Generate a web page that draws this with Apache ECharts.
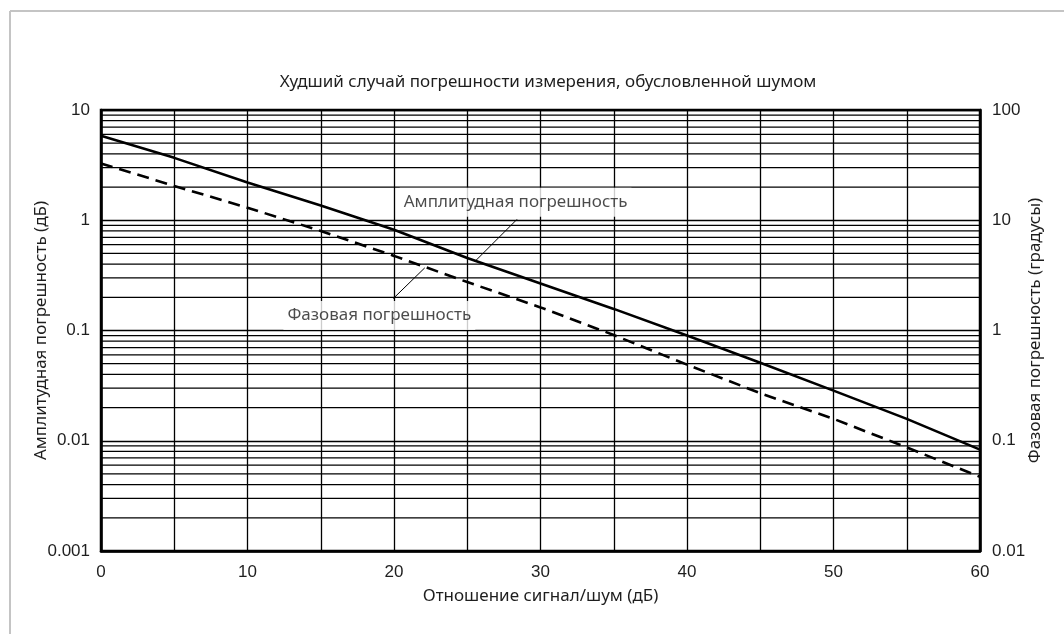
<!DOCTYPE html>
<html>
<head>
<meta charset="utf-8">
<script src="https://cdn.jsdelivr.net/npm/echarts@6/dist/echarts.min.js"></script>
<style>
html,body{margin:0;padding:0;background:#fff;}
#chart{width:1064px;height:634px;}
</style>
</head>
<body>
<div id="chart"></div>
<script>
// ---- data ----
const snrDb = [0, 5, 10, 15, 20, 25, 30, 35, 40, 45, 50, 55, 60];
const amplitudeErrDb = [5.84, 3.68, 2.2, 1.36, 0.82, 0.455, 0.267, 0.157, 0.09, 0.051, 0.0285, 0.0158, 0.0083];
const phaseErrDeg = [32.7, 20.5, 13, 8, 4.75, 2.75, 1.62, 0.91, 0.49, 0.27, 0.158, 0.087, 0.047];
const minorGridLeft = [0.002,0.003,0.004,0.005,0.006,0.007,0.008,0.009,
                       0.02,0.03,0.04,0.05,0.06,0.07,0.08,0.09,
                       0.2,0.3,0.4,0.5,0.6,0.7,0.8,0.9,
                       2,3,4,5,6,7,8,9];
const xRange = [0, 60];
const titleText = 'Худший случай погрешности измерения, обусловленной шумом';
const xName = 'Отношение сигнал/шум (дБ)';
const yLeftName = 'Амплитудная погрешность (дБ)';
const yRightName = 'Фазовая погрешность (градусы)';
const ampLabel = 'Амплитудная погрешность';
const phaseLabel = 'Фазовая погрешность';
// annotation anchor points (data units): [snr, value]
const ampLabelPos = [28.3, 1.46];
const phaseLabelPos = [19.0, 0.137];
const ampLeader = [[28.4, 1.02], [25.5, 0.42]];
const phaseLeader = [[19.95, 0.195], [22.1, 0.37]];

const chart = echarts.init(document.getElementById('chart'), null, {renderer:'canvas'});
const txt = '#1e1e1e';
const font = 'Noto Sans';
const tickFont = 'Liberation Sans';

const option = {
  backgroundColor:'#fff',
  animation:false,
  title:{
    text:titleText, left:543, top:69, textAlign:'center',
    textStyle:{fontFamily:font, fontSize:17, fontWeight:'normal', color:txt}
  },
  graphic:[
    {type:'line', shape:{x1:10,y1:11,x2:1064,y2:11}, style:{stroke:'#c4c4c4', lineWidth:2}},
    {type:'line', shape:{x1:10,y1:11,x2:10,y2:634}, style:{stroke:'#c4c4c4', lineWidth:2}}
  ],
  grid:{left:101, right:84, top:110, bottom:83, show:true, borderColor:'#000', borderWidth:2.5, backgroundColor:'transparent'},
  xAxis:{
    type:'value', min:xRange[0], max:xRange[1], interval:5,
    name:xName, nameLocation:'middle', nameGap:37, nameMoveOverlap:false,
    nameTextStyle:{fontFamily:font, fontSize:17, color:txt},
    axisLine:{show:true, lineStyle:{color:'#000', width:2.5}},
    axisTick:{show:false},
    axisLabel:{fontFamily:tickFont, fontSize:17, color:txt, margin:13,
      formatter:v => (v % 10 === 0 ? String(v) : '')},
    splitLine:{show:true, lineStyle:{color:'#000', width:1.3}}
  },
  yAxis:[
    {
      type:'log', logBase:10, min:0.001, max:10,
      name:yLeftName, nameLocation:'middle', nameGap:51, nameMoveOverlap:false,
      nameTextStyle:{fontFamily:font, fontSize:17, color:txt},
      axisLine:{show:true, lineStyle:{color:'#000', width:2.5}},
      axisTick:{show:false},
      axisLabel:{fontFamily:tickFont, fontSize:17, color:txt, margin:11,
        formatter:v => String(+v.toPrecision(1))},
      splitLine:{show:true, lineStyle:{color:'#000', width:1.3}}
    },
    {
      type:'log', logBase:10, min:0.01, max:100, position:'right',
      name:yRightName, nameLocation:'middle', nameGap:47, nameMoveOverlap:false,
      nameTextStyle:{fontFamily:font, fontSize:17, color:txt},
      axisLine:{show:true, lineStyle:{color:'#000', width:2.5}},
      axisTick:{show:false},
      axisLabel:{fontFamily:tickFont, fontSize:17, color:txt, margin:12,
        formatter:v => String(+v.toPrecision(1))},
      splitLine:{show:false}
    }
  ],
  series:[
    {
      name:'minorGrid', type:'custom', yAxisIndex:0, silent:true, z:1,
      data:minorGridLeft.map(v => [v]),
      encode:{y:0},
      renderItem:function(params, api){
        const v = api.value(0);
        const p1 = api.coord([xRange[0], v]);
        const p2 = api.coord([xRange[1], v]);
        return {type:'line', shape:{x1:p1[0], y1:p1[1], x2:p2[0], y2:p2[1]},
          style:{stroke:'#000', lineWidth:1.3}};
      }
    },
    {
      name:'amp', type:'line', yAxisIndex:0, z:5,
      data:snrDb.map((x,i)=>[x, amplitudeErrDb[i]]),
      showSymbol:false, lineStyle:{color:'#000', width:2.6}
    },
    {
      name:'phase', type:'line', yAxisIndex:1, z:5,
      data:snrDb.map((x,i)=>[x, phaseErrDeg[i]]),
      showSymbol:false, lineStyle:{color:'#000', width:2.6, type:[12,7]}
    },
    {
      name:'leaders', type:'line', yAxisIndex:0, z:6, silent:true, data:[],
      markLine:{silent:true, symbol:['none','none'], label:{show:false},
        lineStyle:{color:'#000', width:1, type:'solid'},
        data:[
          [{coord:ampLeader[0]},{coord:ampLeader[1]}],
          [{coord:phaseLeader[0]},{coord:phaseLeader[1]}]
        ]}
    },
    {
      name:'labels', type:'scatter', yAxisIndex:0, z:10, silent:true,
      symbolSize:0,
      data:[
        {value:ampLabelPos, label:{formatter:ampLabel}},
        {value:phaseLabelPos, label:{formatter:phaseLabel}}
      ],
      label:{show:true, position:'inside', fontFamily:font, fontSize:17, color:txt,
        backgroundColor:'#fff', padding:[6,4,6,4]}
    }
  ]
};
chart.setOption(option);
</script>
</body>
</html>
